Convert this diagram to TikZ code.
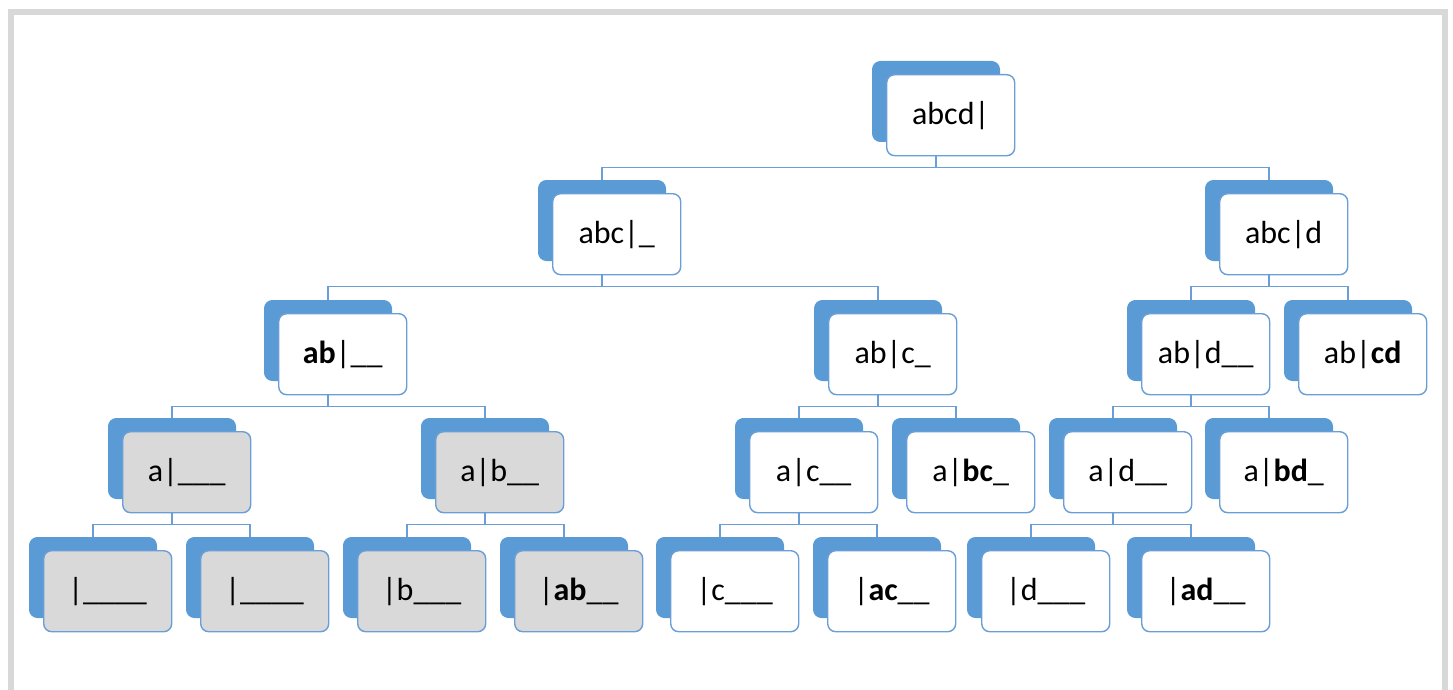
\documentclass[tikz,border=0pt]{standalone}
\usepackage{fontspec}
\setmainfont{Carlito}
\definecolor{accblue}{HTML}{5B9BD5}
\definecolor{lineblue}{HTML}{6A9ED6}
\definecolor{boxgray}{HTML}{D9D9D9}
\definecolor{framegray}{HTML}{D8D8D8}
\tikzset{
  backbox/.style={fill=accblue, draw=accblue, line width=1pt, rounded corners=8pt,
    minimum width=127pt, minimum height=80pt, inner sep=0pt, anchor=north west},
  frontbox/.style={draw=lineblue, line width=1.4pt, rounded corners=8pt,
    minimum width=128pt, minimum height=81pt, inner sep=0pt, anchor=north west,
    font=\fontsize{32}{38}\selectfont, text=black},
  connector/.style={draw=lineblue, line width=1.5pt},
}
\newcommand\mybox[5]{%
  \node[backbox] (#1-back) at (#2-14,#3-13) {};
  \node[frontbox, fill=#4] (#1) at (#2,#3) {#5};
}
\newcommand\myconn[2]{\draw[connector] (#1-back.center |- #1.south) -- ++(0,11) -| (#2-back.north);}
\begin{document}
\begin{tikzpicture}[x=1pt, y=-1pt]
\path[use as bounding box] (0,0) rectangle (1453,690);
\clip (0,0) rectangle (1453,690);
\draw[framegray, line width=6pt] (11,700) -- (11,12) -- (1445,12) -- (1445,700);
% level 0
\mybox{r}{886}{74}{white}{abcd|}
% level 1
\mybox{l}{552}{193}{white}{abc|\_}
\mybox{m}{1219}{193}{white}{abc|d}
% level 2
\mybox{la}{278}{313}{white}{\textbf{ab}|\_\_}
\mybox{lb}{828}{313}{white}{ab|c\_}
\mybox{ma}{1141}{313}{white}{ab|d\_\_}
\mybox{mb}{1298}{313}{white}{ab|\textbf{cd}}
% level 3
\mybox{laa}{122}{431}{boxgray}{a|\_\_\_}
\mybox{lab}{435}{431}{boxgray}{a|b\_\_}
\mybox{lba}{749}{431}{white}{a|c\_\_}
\mybox{lbb}{906}{431}{white}{a|\textbf{bc}\_}
\mybox{maa}{1063}{431}{white}{a|d\_\_}
\mybox{mab}{1219}{431}{white}{a|\textbf{bd}\_}
% level 4
\mybox{n1}{43}{550}{boxgray}{|\_\_\_\_}
\mybox{n2}{200}{550}{boxgray}{|\_\_\_\_}
\mybox{n3}{357}{550}{boxgray}{|b\_\_\_}
\mybox{n4}{514}{550}{boxgray}{|\textbf{ab}\_\_}
\mybox{n5}{670}{550}{white}{|c\_\_\_}
\mybox{n6}{827}{550}{white}{|\textbf{ac}\_\_}
\mybox{n7}{981}{550}{white}{|d\_\_\_}
\mybox{n8}{1141}{550}{white}{|\textbf{ad}\_\_}
% connectors
\myconn{r}{l}\myconn{r}{m}
\myconn{l}{la}\myconn{l}{lb}
\myconn{m}{ma}\myconn{m}{mb}
\myconn{la}{laa}\myconn{la}{lab}
\myconn{lb}{lba}\myconn{lb}{lbb}
\myconn{ma}{maa}\myconn{ma}{mab}
\myconn{laa}{n1}\myconn{laa}{n2}
\myconn{lab}{n3}\myconn{lab}{n4}
\myconn{lba}{n5}\myconn{lba}{n6}
\myconn{maa}{n7}\myconn{maa}{n8}
\end{tikzpicture}
\end{document}
